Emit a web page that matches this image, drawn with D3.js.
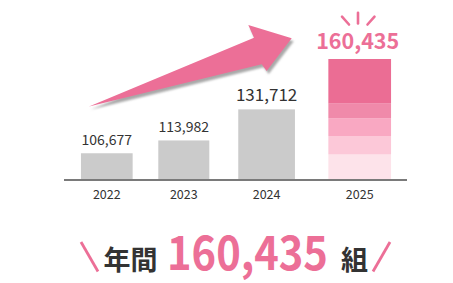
<!DOCTYPE html>
<html><head><meta charset="utf-8">
<script src="https://cdn.jsdelivr.net/npm/d3@7"></script>
<style>
html,body{margin:0;padding:0;background:#fff;}
svg{display:block;font-family:"Noto Sans CJK JP","Noto Sans",sans-serif;}
</style></head><body>
<svg id="c" width="453" height="283"></svg>
<script>
const years = ["2022","2023","2024","2025"];
const values = [106677, 113982, 131712, 160435];
const valueLabels = ["106,677","113,982","131,712","160,435"];
// boundaries of the 2025 stacked segments (bottom to top)
const segBounds = [92000, 106000, 116500, 126700, 135000, 160435];
const segColors = ["#fde3ea","#fcc8d8","#f9a8c2","#f08aaa","#eb6d94"];
const totalLabel = "160,435";

const svg = d3.select("#c");
const pink = "#ec6f97";
const y = d3.scaleLinear().domain([92000, 160435]).range([179, 59]);
const xc = d3.scaleLinear().domain([0,1,2,3]).range([106.8, 183.8, 266.6, 359.7]);
const bw = d3.scaleLinear().domain([0,1,2,3]).range([51.7, 51, 56.7, 62.7]);
const fs = d3.scaleLinear().domain([0,1,2,3]).range([14, 14, 17, 21.5]);

// arrow (shadow + body)
const arrowPts = [[89,106.5],[254,37.7],[248.3,25],[291.7,38.3],[266.7,71],[261.7,64.3],[89,106.5]];
const line = d3.line();
svg.append("defs").append("filter").attr("id","bl").append("feGaussianBlur").attr("stdDeviation",0.8);
svg.append("path").attr("d", line(arrowPts)).attr("fill","#a9a9a9")
  .attr("transform","translate(2,3)").attr("filter","url(#bl)");
svg.append("path").attr("d", line(arrowPts)).attr("fill",pink);

// gray bars
const g = svg.append("g");
values.slice(0,3).forEach((v,i)=>{
  g.append("rect").attr("x", xc(i)-bw(i)/2).attr("width", bw(i))
   .attr("y", y(v)).attr("height", y.range()[0]-y(v)).attr("fill","#cbcbcb");
});
// stacked 2025
d3.pairs(segBounds).forEach(([a,b],k)=>{
  g.append("rect").attr("x", xc(3)-bw(3)/2).attr("width", bw(3))
   .attr("y", y(b)).attr("height", y(a)-y(b)).attr("fill", segColors[k]);
});

// axis line
svg.append("line").attr("x1",64).attr("x2",407).attr("y1",180).attr("y2",180)
  .attr("stroke","#7a7a7a").attr("stroke-width",2);

// year labels
years.forEach((t,i)=>{
  svg.append("text").attr("x", xc(i)).attr("y",198.5).attr("text-anchor","middle")
    .attr("font-size",12.5).attr("fill","#333").text(t);
});
// value labels
valueLabels.forEach((t,i)=>{
  const last = i===3;
  svg.append("text").attr("x", xc(i)+(last?-2:0)).attr("y", y(values[i]) - (last?10:8.5))
    .attr("text-anchor","middle").attr("font-size", fs(i))
    .attr("font-weight", last?700:400).attr("fill", last?pink:"#333").text(t);
});
// sparkle
const sp = [[[358,12.7],[358,23.5]],[[342,16.7],[349,24.5]],[[374.5,16.7],[367.5,24.5]]];
sp.forEach(s=>svg.append("path").attr("d", line(s)).attr("stroke",pink)
  .attr("stroke-width",2.6).attr("stroke-linecap","round"));

// bottom headline
svg.append("path").attr("d", line([[81,242],[98,271.5]])).attr("stroke",pink).attr("stroke-width",2.8);
svg.append("path").attr("d", line([[390,242],[373,271.5]])).attr("stroke",pink).attr("stroke-width",2.8);
svg.append("text").attr("x",103.5).attr("y",270).attr("font-size",27).attr("font-weight",700)
  .attr("fill","#333").text("年間");
const big = svg.append("text").attr("x",0).attr("y",0).attr("font-size",47)
  .attr("font-weight",700).attr("fill",pink).text(totalLabel);
const natural = big.node().getComputedTextLength();
big.attr("transform", `translate(167,270) scale(${161/natural},1)`);
svg.append("text").attr("x",341).attr("y",270).attr("font-size",27).attr("font-weight",700)
  .attr("fill","#333").text("組");
</script>
</body></html>
